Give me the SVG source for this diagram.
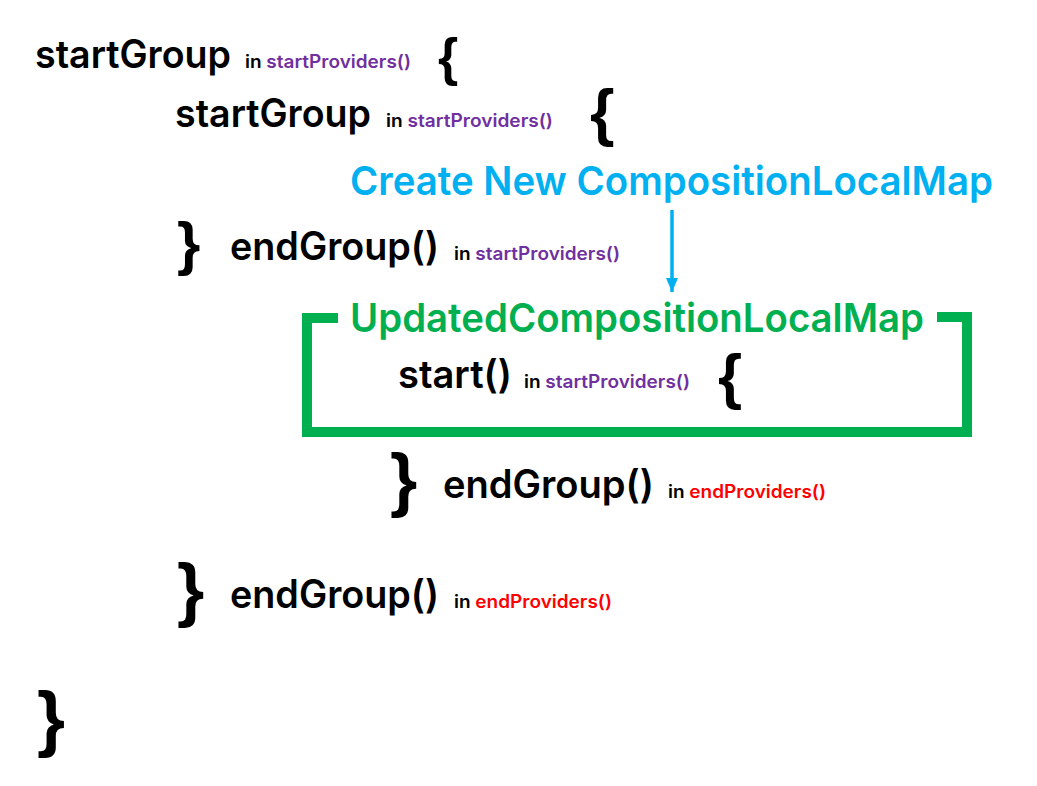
<svg xmlns="http://www.w3.org/2000/svg" width="1037" height="786" viewBox="0 0 1037 786">
<style>
.big{font-family:Inter,"Liberation Sans",sans-serif;font-weight:600;font-size:39px;fill:#000}
.sm{font-family:Inter,"Liberation Sans",sans-serif;font-weight:600;font-size:18px;fill:#000}
.pu{fill:#7030A0}
.rd{fill:#FF0000}
.br{font-family:"Liberation Sans",Arial,sans-serif;font-weight:700;fill:#000}
.blue{font-family:Inter,"Liberation Sans",sans-serif;font-weight:600;font-size:40px;fill:#00B0F0}
.green{font-family:Inter,"Liberation Sans",sans-serif;font-weight:600;font-size:40px;fill:#00B050}
</style>
<defs>
<marker id="ah" viewBox="0 0 14 12" refX="14" refY="6" markerWidth="14" markerHeight="12" markerUnits="userSpaceOnUse" orient="auto">
<path d="M0,0 L14,6 L0,12 Z" fill="#00B0F0"/>
</marker>
</defs>
<rect width="1037" height="786" fill="#fff"/>
<g id="line1">
<text class="big" x="35" y="68" textLength="196" lengthAdjust="spacingAndGlyphs">startGroup</text>
<text class="sm" x="245" y="68" textLength="166" lengthAdjust="spacingAndGlyphs">in <tspan class="pu">startProviders()</tspan></text>
<text class="br" x="438" y="75" font-size="52">{</text>
</g>
<g id="line2">
<text class="big" x="175" y="127" textLength="196" lengthAdjust="spacingAndGlyphs">startGroup</text>
<text class="sm" x="386" y="127" textLength="167" lengthAdjust="spacingAndGlyphs">in <tspan class="pu">startProviders()</tspan></text>
<text class="br" x="590" y="134" font-size="63">{</text>
</g>
<g id="create">
<text class="blue" x="350" y="195" textLength="643" lengthAdjust="spacingAndGlyphs">Create New CompositionLocalMap</text>
</g>
<g id="line3">
<text class="br" x="177" y="264" font-size="60">}</text>
<text class="big" x="230" y="260" textLength="209" lengthAdjust="spacingAndGlyphs">endGroup()</text>
<text class="sm" x="454" y="260" textLength="166" lengthAdjust="spacingAndGlyphs">in <tspan class="pu">startProviders()</tspan></text>
</g>
<g id="updated">
<path d="M338,318 H307 V432 H967 V317 H937" fill="none" stroke="#00B050" stroke-width="10"/>
<text class="green" x="350" y="332" textLength="574" lengthAdjust="spacingAndGlyphs">UpdatedCompositionLocalMap</text>
<text class="big" x="398" y="388" textLength="114" lengthAdjust="spacingAndGlyphs">start()</text>
<text class="sm" x="524" y="388" textLength="166" lengthAdjust="spacingAndGlyphs">in <tspan class="pu">startProviders()</tspan></text>
<text class="br" x="718" y="397" font-size="62">{</text>
</g>
<g id="line5">
<text class="br" x="390" y="503" font-size="70">}</text>
<text class="big" x="443" y="498" textLength="211" lengthAdjust="spacingAndGlyphs">endGroup()</text>
<text class="sm" x="668" y="498" textLength="158" lengthAdjust="spacingAndGlyphs">in <tspan class="rd">endProviders()</tspan></text>
</g>
<g id="line6">
<text class="br" x="177" y="613" font-size="70">}</text>
<text class="big" x="230" y="608" textLength="209" lengthAdjust="spacingAndGlyphs">endGroup()</text>
<text class="sm" x="454" y="608" textLength="158" lengthAdjust="spacingAndGlyphs">in <tspan class="rd">endProviders()</tspan></text>
</g>
<g id="line7">
<text class="br" x="37" y="743" font-size="72">}</text>
</g>
<g id="connectors">
<line x1="672" y1="210" x2="672" y2="292" stroke="#00B0F0" stroke-width="3.5" marker-end="url(#ah)"/>
</g>
</svg>
